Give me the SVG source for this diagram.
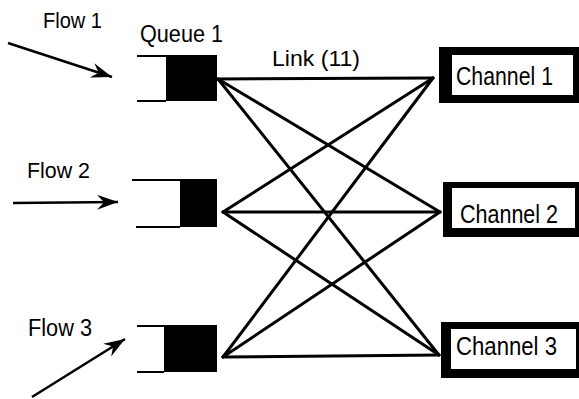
<svg xmlns="http://www.w3.org/2000/svg" width="579" height="399" viewBox="0 0 579 399">
<defs>
<marker id="ah" viewBox="-22 -9 24 18" markerWidth="24" markerHeight="18" refX="0" refY="0" orient="auto" markerUnits="userSpaceOnUse">
<path d="M0,0 L-21,-7.5 L-14,0 L-21,7.5 Z" fill="#000"/>
</marker>
<style>
text{font-family:"Liberation Sans",Arial,sans-serif;fill:#000}
.q{stroke:#000;stroke-width:2.2;fill:none}
.qb{fill:#000}
.ob{fill:#000}
.ib{fill:#fff}
.lk{stroke:#000;stroke-width:3;fill:none;stroke-linecap:round}
.fl{stroke:#000;stroke-width:2.5;fill:none}
</style>
</defs>
<rect width="579" height="399" fill="#fff"/>
<g id="labels">
<text x="43" y="28" font-size="22" textLength="59" lengthAdjust="spacingAndGlyphs">Flow 1</text>
<text x="27" y="178" font-size="22" textLength="63" lengthAdjust="spacingAndGlyphs">Flow 2</text>
<text x="28" y="336" font-size="23" textLength="64" lengthAdjust="spacingAndGlyphs">Flow 3</text>
<text x="272" y="66" font-size="22" textLength="88" lengthAdjust="spacingAndGlyphs">Link (11)</text>
</g>
<g id="connectors">
<line class="fl" x1="8" y1="43" x2="112" y2="77" marker-end="url(#ah)"/>
<line class="fl" x1="13" y1="203" x2="118" y2="202" marker-end="url(#ah)"/>
<line class="fl" x1="32" y1="397" x2="125" y2="339" marker-end="url(#ah)"/>
<line class="lk" x1="218" y1="79" x2="433" y2="78"/>
<line class="lk" x1="218" y1="79" x2="440" y2="212"/>
<line class="lk" x1="218" y1="79" x2="439" y2="355"/>
<line class="lk" x1="223" y1="212" x2="433" y2="78"/>
<line class="lk" x1="223" y1="212" x2="440" y2="212"/>
<line class="lk" x1="223" y1="212" x2="439" y2="355"/>
<line class="lk" x1="223" y1="357" x2="433" y2="78"/>
<line class="lk" x1="223" y1="357" x2="440" y2="212"/>
<line class="lk" x1="223" y1="357" x2="439" y2="355"/>
</g>
<g id="queue1">
<text x="140" y="42" font-size="24" textLength="83" lengthAdjust="spacingAndGlyphs">Queue 1</text>
<path class="q" d="M137,56 H217 M137,101 H166"/>
<rect class="qb" x="166" y="56" width="51" height="45"/>
</g>
<g id="queue2">
<path class="q" d="M132,180 H217 M136,227 H180"/>
<rect class="qb" x="180" y="180" width="37" height="47"/>
</g>
<g id="queue3">
<path class="q" d="M137,326 H217 M137,372 H164"/>
<rect class="qb" x="164" y="326" width="53" height="46"/>
</g>
<g id="channel1">
<rect class="ob" x="439" y="47" width="140" height="56"/>
<rect class="ib" x="452" y="55" width="121" height="40"/>
<text x="456" y="85" font-size="25" textLength="97" lengthAdjust="spacingAndGlyphs">Channel 1</text>
</g>
<g id="channel2">
<rect class="ob" x="443" y="182" width="136" height="55"/>
<rect class="ib" x="452" y="188" width="123" height="40"/>
<text x="460" y="223" font-size="25" textLength="98" lengthAdjust="spacingAndGlyphs">Channel 2</text>
</g>
<g id="channel3">
<rect class="ob" x="441" y="322" width="138" height="56"/>
<rect class="ib" x="451" y="329" width="125" height="40"/>
<text x="456" y="355" font-size="25" textLength="101" lengthAdjust="spacingAndGlyphs">Channel 3</text>
</g>
</svg>
